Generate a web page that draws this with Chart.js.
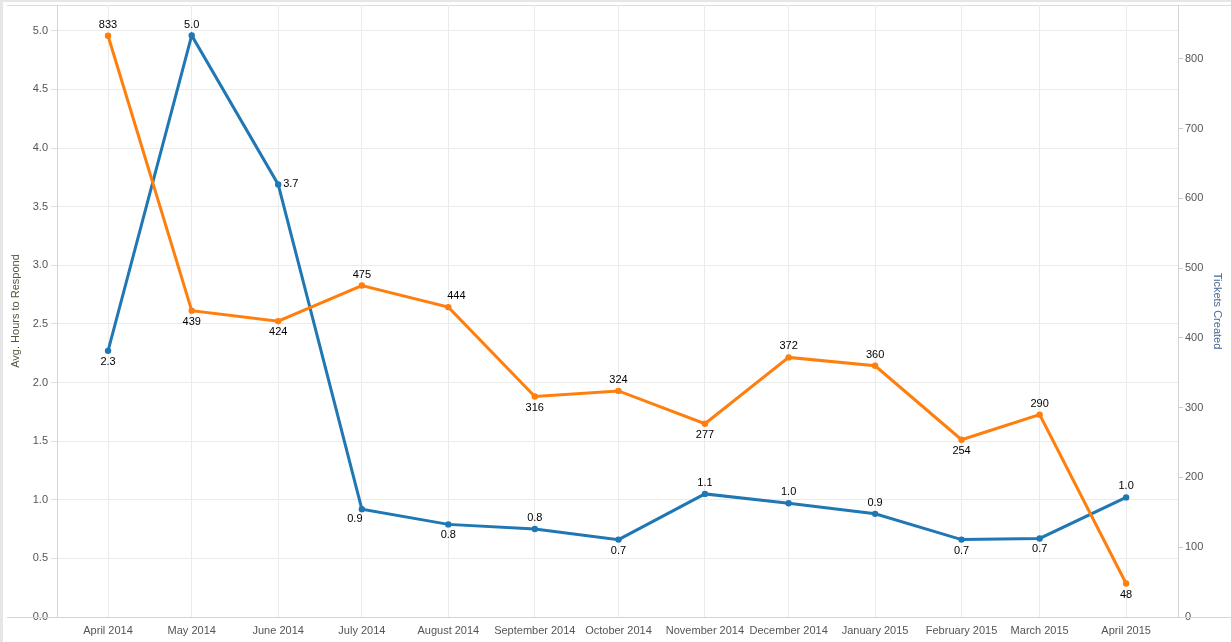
<!DOCTYPE html>
<html>
<head>
<meta charset="utf-8">
<title>Avg. Hours to Respond and Tickets Created</title>
<script src="https://cdn.jsdelivr.net/npm/chart.js@4"></script>
<style>
  html, body { margin: 0; padding: 0; background: #fff; overflow: hidden; }
  canvas { display: block; }
</style>
</head>
<body>
<canvas id="lineChart" width="1231" height="642"></canvas>
<script>
// Data
const months = ["April 2014", "May 2014", "June 2014", "July 2014", "August 2014", "September 2014",
  "October 2014", "November 2014", "December 2014", "January 2015", "February 2015", "March 2015", "April 2015"];
const avgHours = [2.27, 4.96, 3.69, 0.92, 0.79, 0.75, 0.66, 1.05, 0.97, 0.88, 0.66, 0.67, 1.02];
const tickets = [833, 439, 424, 475, 444, 316, 324, 277, 372, 360, 254, 290, 48];
const hoursTicks = [0, 0.5, 1, 1.5, 2, 2.5, 3, 3.5, 4, 4.5, 5];
const ticketTicks = [0, 100, 200, 300, 400, 500, 600, 700, 800];

// where each mark label sits: a = above, b = below, r = right, bl = below left, ar = above right
const hoursLabelPos = ["b", "a", "r", "bl", "b", "a", "b", "a", "a", "a", "b", "b", "a"];
const ticketLabelPos = ["a", "b", "b", "a", "ar", "b", "a", "b", "a", "a", "b", "a", "b"];

const monthNames = ["January", "February", "March", "April", "May", "June", "July",
  "August", "September", "October", "November", "December"];

// months are placed on a real time line (days since epoch)
const dayOf = (label) => {
  const [name, year] = label.split(" ");
  return Date.UTC(+year, monthNames.indexOf(name), 1) / 86400000;
};
const days = months.map(dayOf);

const FONT = "'Liberation Sans', Arial, sans-serif";
const BLUE = "#1f77b4";
const ORANGE = "#ff7f0e";

// Frame around the view, like the original worksheet
const framePlugin = {
  id: "frame",
  beforeDraw(chart) {
    const ctx = chart.ctx;
    ctx.save();
    ctx.fillStyle = "#ffffff";
    ctx.fillRect(0, 0, chart.width, chart.height);
    ctx.fillStyle = "#e6e6e6";
    ctx.fillRect(0, 0, 3, chart.height);
    ctx.fillRect(0, 0, chart.width, 2);
    ctx.strokeStyle = "#dcdcdc";
    ctx.lineWidth = 1;
    ctx.beginPath();
    ctx.moveTo(7, 5.5);
    ctx.lineTo(chart.width, 5.5);
    ctx.stroke();
    ctx.restore();
  },
  afterDraw(chart) {
    const ctx = chart.ctx;
    const y = Math.round(chart.chartArea.bottom) + 0.5;
    ctx.save();
    ctx.strokeStyle = "#d4d4d4";
    ctx.lineWidth = 1;
    ctx.beginPath();
    ctx.moveTo(7, y);
    ctx.lineTo(chart.width, y);
    ctx.stroke();
    ctx.restore();
  },
};

// Value labels next to every point
const labelPlugin = {
  id: "pointLabels",
  afterDatasetsDraw(chart) {
    const ctx = chart.ctx;
    ctx.save();
    ctx.font = "11px " + FONT;
    ctx.fillStyle = "#000";
    chart.data.datasets.forEach((ds, i) => {
      const meta = chart.getDatasetMeta(i);
      meta.data.forEach((pt, j) => {
        const pos = ds.labelPos[j];
        const text = ds.format(ds.data[j].y);
        let x = pt.x, y = pt.y;
        ctx.textAlign = "center";
        ctx.textBaseline = "middle";
        if (pos === "a") y -= 11;
        else if (pos === "b") y += 11;
        else if (pos === "ar") { y -= 11; x += 8; }
        else if (pos === "bl") { y += 10; x -= 7; }
        else if (pos === "r") { x += 5; ctx.textAlign = "left"; }
        ctx.fillText(text, x, y);
      });
    });
    ctx.restore();
  },
};

const fitY = (width) => (scale) => {
  scale.width = width;
  scale.paddingTop = 0;
  scale.paddingBottom = 0;
};

const lineChart = new Chart(document.getElementById("lineChart"), {
  type: "line",
  data: {
    datasets: [
      {
        label: "Tickets Created",
        data: days.map((d, i) => ({ x: d, y: tickets[i] })),
        yAxisID: "y1",
        borderColor: ORANGE,
        backgroundColor: ORANGE,
        borderWidth: 3,
        pointRadius: 3.2,
        pointBorderWidth: 0,
        tension: 0,
        order: 0,
        labelPos: ticketLabelPos,
        format: (v) => String(v),
      },
      {
        label: "Avg. Hours to Respond",
        data: days.map((d, i) => ({ x: d, y: avgHours[i] })),
        yAxisID: "y",
        borderColor: BLUE,
        backgroundColor: BLUE,
        borderWidth: 3,
        pointRadius: 3.2,
        pointBorderWidth: 0,
        tension: 0,
        order: 1,
        labelPos: hoursLabelPos,
        format: (v) => v.toFixed(1),
      },
    ],
  },
  options: {
    responsive: false,
    animation: false,
    events: [],
    layout: { padding: { top: 5, left: 0, right: 0, bottom: 0 } },
    plugins: {
      legend: { display: false },
      tooltip: { enabled: false },
    },
    scales: {
      x: {
        type: "linear",
        min: days[0] - 18.3,
        max: days[days.length - 1] + 18.6,
        afterBuildTicks: (scale) => {
          scale.ticks = days.map((d) => ({ value: d }));
        },
        afterFit: (scale) => {
          scale.height = 25;
          scale.paddingLeft = 0;
          scale.paddingRight = 0;
        },
        ticks: {
          autoSkip: false,
          maxRotation: 0,
          padding: 7,
          color: "#555",
          font: { family: FONT, size: 11 },
          callback: (value, index) => months[index],
        },
        grid: { color: "#ebebeb", drawTicks: false },
        border: { color: "#d4d4d4" },
      },
      y: {
        position: "left",
        min: 0,
        max: 5.22,
        afterBuildTicks: (scale) => {
          scale.ticks = hoursTicks.map((v) => ({ value: v }));
        },
        afterFit: fitY(57),
        ticks: {
          padding: 3,
          color: "#555",
          font: { family: FONT, size: 11 },
          callback: (value) => Number(value).toFixed(1),
        },
        grid: { color: "#ebebeb", tickColor: "#dddddd", tickLength: 6 },
        border: { color: "#d4d4d4" },
        title: {
          display: true,
          text: "Avg. Hours to Respond",
          color: "#55553f",
          font: { family: FONT, size: 11 },
          padding: { top: 9, bottom: 0 },
        },
      },
      y1: {
        position: "right",
        min: 0,
        max: 877,
        afterBuildTicks: (scale) => {
          scale.ticks = ticketTicks.map((v) => ({ value: v }));
        },
        afterFit: fitY(53),
        ticks: {
          padding: 2,
          color: "#555",
          font: { family: FONT, size: 11 },
        },
        grid: { drawOnChartArea: false, tickColor: "#cccccc", tickLength: 5 },
        border: { color: "#d4d4d4" },
        title: {
          display: true,
          text: "Tickets Created",
          color: "#4a6a96",
          font: { family: FONT, size: 11 },
          padding: { top: 7, bottom: 0 },
        },
      },
    },
  },
  plugins: [framePlugin, labelPlugin],
});
</script>
</body>
</html>
